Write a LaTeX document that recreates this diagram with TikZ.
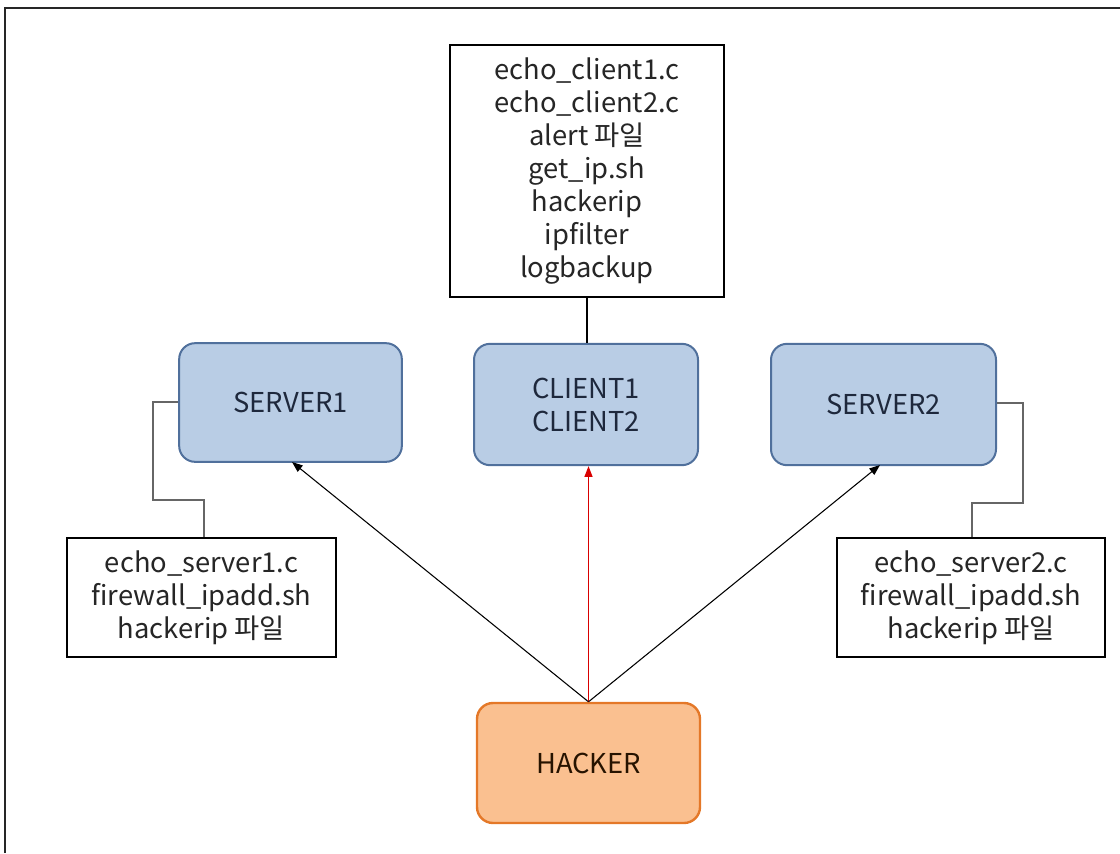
\documentclass[tikz,border=0pt]{standalone}
\usepackage{fontspec}
\setmainfont{Noto Sans CJK KR}
\usetikzlibrary{arrows.meta}
\definecolor{bfill}{RGB}{185,205,229}
\definecolor{bdraw}{RGB}{80,112,156}
\definecolor{ofill}{RGB}{250,192,144}
\definecolor{odraw}{RGB}{228,120,40}
\definecolor{btext}{RGB}{30,40,60}
\begin{document}
\begin{tikzpicture}[x=0.75pt,y=-0.75pt,
  filebox/.style={draw=black,line width=2.2pt,fill=white,align=center,inner sep=0pt,text=black!85,font=\fontsize{20.5pt}{24.75pt}\selectfont},
  bluebox/.style={draw=bdraw,line width=1.5pt,fill=bfill,rounded corners=12pt,align=center,inner sep=0pt,text=btext,font=\fontsize{20.5pt}{24.75pt}\selectfont},
  hackbox/.style={draw=odraw,line width=1.8pt,fill=ofill,rounded corners=12pt,align=center,inner sep=0pt,text=black!85!orange,font=\fontsize{20.5pt}{24.75pt}\selectfont},
  link/.style={line width=0.8pt,draw=black},
  glink/.style={line width=1.2pt,draw=black!60},
  arr/.style={line width=0.8pt,-{Stealth[length=8pt,width=6pt,inset=0pt]}}]
\useasboundingbox (0,0) rectangle (1120,853);
\draw[line width=1.6pt,black!85] (5,853) -- (5,8) -- (1120,8);
% nodes
\node[filebox,minimum width=205.5pt,minimum height=189pt] (files) at (587,171) {echo\_client1.c\\echo\_client2.c\\alert 파일\\get\_ip.sh\\hackerip\\ipfilter\\logbackup};
\node[bluebox,minimum width=168pt,minimum height=91pt] (client) at (586,404.5) {CLIENT1\\CLIENT2};
\node[bluebox,minimum width=167pt,minimum height=89pt] (server1) at (290.5,402.5) {SERVER1};
\node[bluebox,minimum width=168.75pt,minimum height=91pt] (server2) at (883.5,404.5) {SERVER2};
\node[filebox,minimum width=201.75pt,minimum height=89.25pt] (s1files) at (201.5,597.5) {echo\_server1.c\\firewall\_ipadd.sh\\hackerip 파일};
\node[filebox,minimum width=201pt,minimum height=89.25pt] (s2files) at (971,597.5) {echo\_server2.c\\firewall\_ipadd.sh\\hackerip 파일};
\node[hackbox,minimum width=167.25pt,minimum height=90pt] (hacker) at (588.5,763) {HACKER};
% connectors
\draw[link] (files.south) -- (files.south |- client.north);
\draw[glink] (server1.west |- 0,402) -- (153,402) -- (153,500) -- (204,500) -- (s1files.north -| 204,0);
\draw[glink] (server2.east |- 0,403) -- (1023,403) -- (1023,503) -- (972,503) -- (s2files.north -| 972,0);
\draw[arr] (hacker.north) -- (292,462);
\draw[arr,red!85!black] (hacker.north) -- (hacker.north |- client.south);
\draw[arr] (hacker.north) -- (880,465);
\end{tikzpicture}
\end{document}
